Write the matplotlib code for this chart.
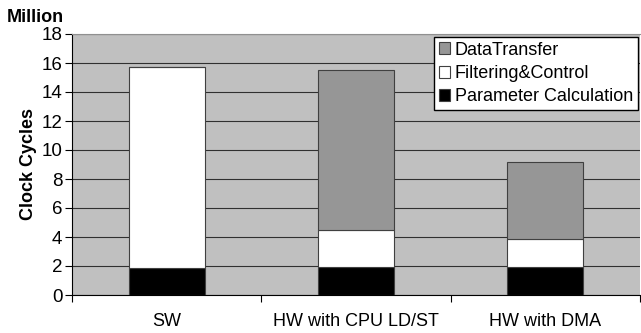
import matplotlib
matplotlib.use("Agg")
import matplotlib.pyplot as plt
import numpy as np

plt.rcParams['font.family'] = ['Liberation Sans', 'DejaVu Sans']

# data (million clock cycles)
categories = ['SW', 'HW with CPU LD/ST', 'HW with DMA']
param_calc = [1.88, 1.90, 1.95]
filtering = [13.86, 2.58, 1.91]
data_transfer = [0.0, 11.02, 5.29]

fig = plt.figure(figsize=(6.41, 3.33), dpi=100)
ax = fig.add_axes([72 / 641, 38 / 333, 568 / 641, 261 / 333])
ax.set_facecolor('#c0c0c0')

x = np.arange(len(categories))
w = 0.40
ax.bar(x, param_calc, w, color='black', edgecolor='#404040', linewidth=0.8,
       label='Parameter Calculation', zorder=3)
ax.bar(x, filtering, w, bottom=param_calc, color='white', edgecolor='#404040',
       linewidth=0.8, label='Filtering&Control', zorder=3)
bottom2 = np.array(param_calc) + np.array(filtering)
ax.bar(x, data_transfer, w, bottom=bottom2, color='#969696', edgecolor='#404040',
       linewidth=0.8, label='DataTransfer', zorder=3)

ax.set_xlim(-0.5, 2.5)
ax.set_ylim(0, 18)
ax.set_yticks(range(0, 19, 2))
ax.yaxis.grid(True, color='#303030', linewidth=0.8, zorder=1)
ax.set_axisbelow(True)

# category separators as major ticks, names as minor tick labels
ax.set_xticks([-0.5, 0.5, 1.5, 2.5])
ax.set_xticklabels([])
ax.set_xticks(x, minor=True)
ax.set_xticklabels(categories, minor=True, fontsize=13)
ax.tick_params(axis='x', which='minor', length=0, pad=13)
ax.tick_params(axis='x', which='major', length=5, direction='out')
ax.tick_params(axis='y', labelsize=13.5, length=5, pad=2)

ax.spines['top'].set_color('#909090')
ax.spines['right'].set_visible(False)
ax.spines['left'].set_color('black')
ax.spines['bottom'].set_color('black')

ax.set_ylabel('Clock Cycles', fontsize=13, fontweight='bold', labelpad=3)
fig.text(7 / 641, 1 - 18 / 333, 'Million', fontsize=13, fontweight='bold',
         va='center', ha='left')

handles, labels = ax.get_legend_handles_labels()
leg = ax.legend(handles[::-1], labels[::-1], loc='upper right',
                bbox_to_anchor=(0.996, 0.988), fontsize=13, frameon=True,
                fancybox=False, handlelength=0.65, handleheight=0.65,
                handletextpad=0.25, borderpad=0.25, labelspacing=0.35,
                borderaxespad=0)
leg.get_frame().set_edgecolor('black')
leg.get_frame().set_linewidth(1.0)
leg.get_frame().set_facecolor('white')
leg.get_frame().set_alpha(1)

fig.savefig('out.png', dpi=100)
